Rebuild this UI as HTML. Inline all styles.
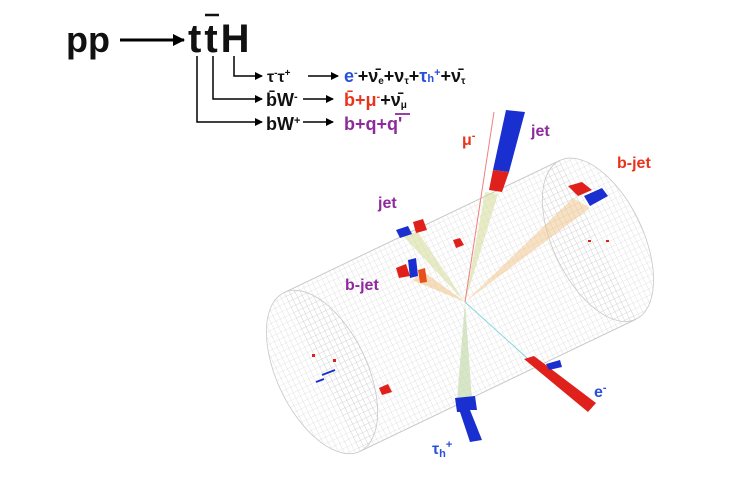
<!DOCTYPE html>
<html><head><meta charset="utf-8"><style>
html,body{margin:0;padding:0;background:#fff;}
svg{display:block;font-family:"Liberation Sans",Arial,sans-serif;font-weight:bold;}
</style></head><body>
<svg width="741" height="486" viewBox="0 0 741 486" xmlns="http://www.w3.org/2000/svg">
<defs>
<marker id="ah" markerWidth="8" markerHeight="8" refX="7" refY="4" orient="auto" markerUnits="userSpaceOnUse"><path d="M0,0 L8,4 L0,8 z" fill="#000"/></marker>
<marker id="ah2" markerWidth="12" markerHeight="12" refX="11" refY="6" orient="auto" markerUnits="userSpaceOnUse"><path d="M0,0 L12,6 L0,12 z" fill="#000"/></marker>
<pattern id="grid" width="5" height="6" patternUnits="userSpaceOnUse"><path d="M5,0 L0,0 0,6" fill="none" stroke="#cfcfcf" stroke-width="0.6"/></pattern>
</defs>
<text x="66" y="52" font-size="36" fill="#111">pp</text>
<line x1="120" y1="40" x2="184" y2="40" stroke="#000" stroke-width="3" marker-end="url(#ah2)"/>
<text x="188" y="52" font-size="40" fill="#111" letter-spacing="3">ttH</text>
<line x1="205" y1="15" x2="219" y2="15" stroke="#111" stroke-width="2.5"/>
<g stroke="#000" stroke-width="1.5" fill="none">
<polyline points="234,56 234,76 262,76" marker-end="url(#ah)"/>
<polyline points="213,56 213,99 262,99" marker-end="url(#ah)"/>
<polyline points="197,56 197,122 262,122" marker-end="url(#ah)"/>
<line x1="308" y1="76" x2="338" y2="76" marker-end="url(#ah)"/>
<line x1="303" y1="99" x2="333" y2="99" marker-end="url(#ah)"/>
<line x1="303" y1="122" x2="333" y2="122" marker-end="url(#ah)"/>
</g>
<g font-size="18">
<text x="267" y="82" fill="#111" font-size="16">τ<tspan font-size="10" dy="-6">-</tspan><tspan dy="6">τ</tspan><tspan font-size="10" dy="-6">+</tspan></text>
<text x="344" y="82"><tspan fill="#2a4fd8">e</tspan><tspan fill="#2a4fd8" font-size="11" dy="-6">-</tspan><tspan fill="#111" dy="6">+ν̄</tspan><tspan fill="#111" font-size="10" dy="2">e</tspan><tspan fill="#111" dy="-2">+ν</tspan><tspan fill="#111" font-size="10" dy="2">τ</tspan><tspan fill="#111" dy="-2">+</tspan><tspan fill="#2a4fd8">τ</tspan><tspan fill="#2a4fd8" font-size="11">h</tspan><tspan fill="#2a4fd8" font-size="11" dy="-6">+</tspan><tspan fill="#111" dy="6">+ν̄</tspan><tspan fill="#111" font-size="10" dy="2">τ</tspan></text>
<text x="266" y="106" fill="#111">b̄W<tspan font-size="11" dy="-6">-</tspan></text>
<text x="344" y="106"><tspan fill="#e8341c">b̄+μ</tspan><tspan fill="#e8341c" font-size="11" dy="-6">-</tspan><tspan fill="#111" dy="6">+ν̄</tspan><tspan fill="#111" font-size="10" dy="2">μ</tspan></text>
<text x="266" y="130" fill="#111">bW<tspan font-size="11" dy="-6">+</tspan></text>
<text x="344" y="130" fill="#8e2a9c">b+q+q'</text>
<line x1="395" y1="114" x2="410" y2="114" stroke="#8e2a9c" stroke-width="1.8"/>
</g>
<g transform="translate(322,372) rotate(-25.6)">
<rect x="0" y="-88" width="306" height="176" fill="url(#grid)"/>
<ellipse cx="0" cy="0" rx="45" ry="88" fill="url(#grid)" stroke="#c8c8c8" stroke-width="0.8"/>
<ellipse cx="306" cy="0" rx="45" ry="88" fill="url(#grid)" stroke="#c8c8c8" stroke-width="0.8"/>
<line x1="0" y1="-88" x2="306" y2="-88" stroke="#c8c8c8"/>
<line x1="0" y1="88" x2="306" y2="88" stroke="#c8c8c8"/>
</g>
<polygon points="465,302 485,192 498,194" fill="#d8e0a0" opacity="0.6"/>
<polygon points="465,302 573,198 590,208" fill="#f0c890" opacity="0.55"/>
<polygon points="465,302 402,235 418,232" fill="#d8e0a0" opacity="0.6"/>
<polygon points="465,302 412,280 424,272" fill="#f0c890" opacity="0.6"/>
<polygon points="465,302 457,400 472,400" fill="#c8dcb0" opacity="0.7"/>
<line x1="465" y1="302" x2="494" y2="112" stroke="#f08080" stroke-width="1"/>
<line x1="465" y1="302" x2="527" y2="358" stroke="#80d8e0" stroke-width="1"/>
<polygon points="506,110 525,112 509,172 493,170" fill="#1a2fd0"/>
<polygon points="493,170 509,172 502,192 489,190" fill="#e0201a"/>
<polygon points="568,186 582,182 592,190 578,196" fill="#e0201a"/>
<polygon points="584,196 602,188 608,196 590,206" fill="#1a2fd0"/>
<polygon points="396,230 408,226 412,234 400,238" fill="#1a2fd0"/>
<polygon points="413,222 423,219 427,230 416,233" fill="#e0201a"/>
<polygon points="453,240 460,238 464,245 456,248" fill="#e0201a"/>
<polygon points="396,268 406,264 410,276 399,278" fill="#e0201a"/>
<polygon points="408,260 416,258 418,276 410,278" fill="#1a2fd0"/>
<polygon points="418,270 425,268 427,282 420,283" fill="#e8501a"/>
<polygon points="455,398 475,396 477,410 470,410 482,440 470,442 460,412 457,412" fill="#1a2fd0"/>
<polygon points="524,359 534,356 596,403 588,412" fill="#e0201a"/>
<polygon points="546,364 560,360 562,367 549,370" fill="#1a2fd0"/>
<polygon points="379,388 388,384 392,392 382,395" fill="#e0201a"/>
<rect x="312" y="354" width="3" height="3" fill="#e0201a"/>
<rect x="333" y="359" width="3" height="3" fill="#e0201a"/>
<line x1="322" y1="375" x2="335" y2="370" stroke="#1a2fd0" stroke-width="2"/>
<line x1="316" y1="382" x2="324" y2="379" stroke="#1a2fd0" stroke-width="2"/>
<rect x="588" y="240" width="3" height="2" fill="#e0201a"/>
<rect x="606" y="240" width="3" height="2" fill="#e0201a"/>
<g font-size="16">
<text x="462" y="145" fill="#e8341c">μ<tspan font-size="11" dy="-6">-</tspan></text>
<text x="531" y="136" fill="#8e2a9c">jet</text>
<text x="617" y="168" fill="#e8341c">b-jet</text>
<text x="378" y="208" fill="#8e2a9c">jet</text>
<text x="345" y="290" fill="#8e2a9c">b-jet</text>
<text x="594" y="397" fill="#2a4fd8">e<tspan font-size="11" dy="-6">-</tspan></text>
<text x="432" y="454" fill="#2a4fd8">τ<tspan font-size="11" dy="3">h</tspan><tspan font-size="11" dy="-9">+</tspan></text>
</g>
</svg>
</body></html>
